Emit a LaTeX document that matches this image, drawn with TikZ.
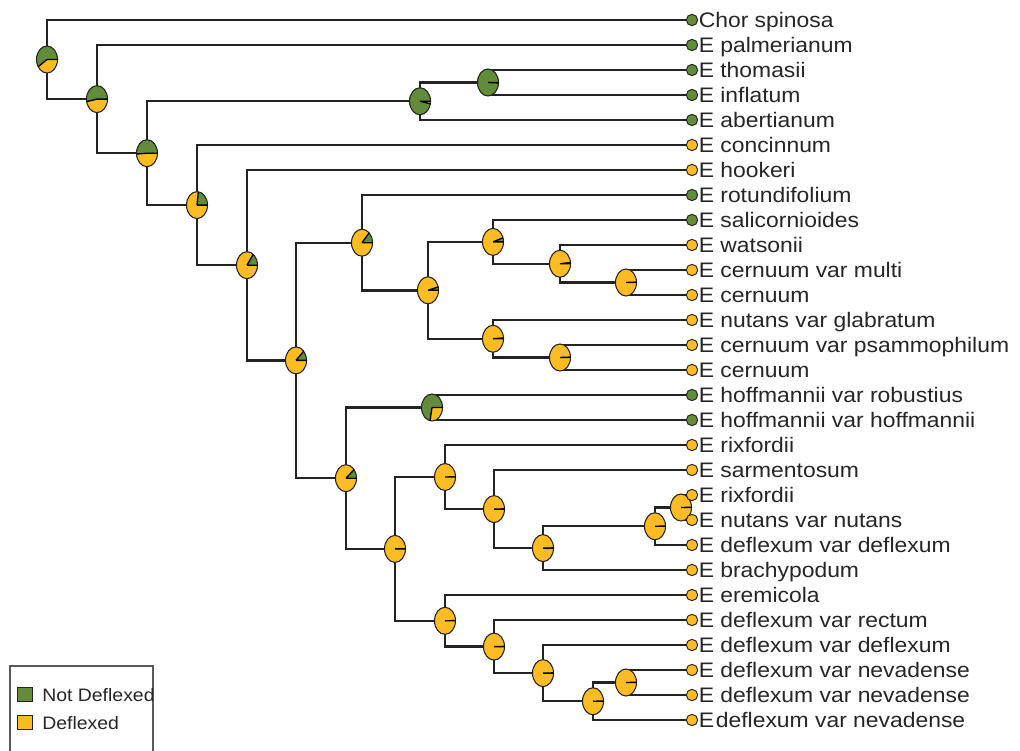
\documentclass[tikz,border=0pt]{standalone}
\usepackage{graphicx}
\usepackage{fontspec}
\setmainfont{Liberation Sans}
\definecolor{grn}{RGB}{98,139,58}
\definecolor{yel}{RGB}{253,188,36}
\definecolor{ln}{RGB}{35,35,35}
\newcommand\pienode[2]{%
  \fill[yel] (#1) ellipse [x radius=10.5, y radius=13.5];
  \fill[grn] (#1) -- ++(10.5,0) arc [start angle=0, end angle={-360*#2}, x radius=10.5, y radius=13.5] -- cycle;
  \draw[pieedge] (#1) ellipse [x radius=10.5, y radius=13.5];
  \draw[pierad] (#1) -- ++(10.5,0) (#1) -- ++({-360*#2}:10.5 and 13.5);
}
\newcommand\tipleaf[4]{%
  \node[lab] (l#1) at (698.5,{#2+7.5}) {\scalebox{1.09}[1]{#4}};
  \node[#3] (t#1) at (692,#2) {};
}
\begin{document}
\begin{tikzpicture}[x=0.75pt,y=-0.75pt,
  branch/.style={draw=ln, line width=1.8pt},
  pieedge/.style={draw=ln, line width=0.8pt},
  pierad/.style={draw=black, line width=1pt},
  tipG/.style={circle, draw=ln, line width=0.7pt, fill=grn, minimum size=8.5pt, inner sep=0pt},
  tipY/.style={circle, draw=ln, line width=0.7pt, fill=yel, minimum size=8.5pt, inner sep=0pt},
  lab/.style={anchor=base west, inner sep=0pt, text=black!85, font=\fontsize{15.75}{18}\selectfont},
  legtext/.style={anchor=base west, inner sep=0pt, text=black!85, font=\fontsize{13.5}{15}\selectfont},
  legbox/.style={draw=black!65, line width=1.1pt},
  legsq/.style={draw=ln, line width=0.8pt}
]
\clip (0,0) rectangle (1020,750);
\fill[white] (0,0) rectangle (1020,750);

% internal nodes
\coordinate (root) at (47,59.5);
\coordinate (n1) at (97,99.1);
\coordinate (n2) at (147,153.2);
\coordinate (nab) at (420,101.25);
\coordinate (nth) at (488,82.5);
\coordinate (n3) at (197,205.1);
\coordinate (n4) at (247,265.2);
\coordinate (n5) at (296,360.4);
\coordinate (n6) at (362,242.7);
\coordinate (n7) at (428,290.3);
\coordinate (n8) at (493,241.9);
\coordinate (n10) at (560,263.75);
\coordinate (n11) at (626,282.5);
\coordinate (n9) at (493,338.75);
\coordinate (n12) at (560,357.5);
\coordinate (nl) at (346,478.2);
\coordinate (nh) at (432,407.5);
\coordinate (n13) at (395,548.9);
\coordinate (n14) at (445,477.0);
\coordinate (n15) at (494,509.1);
\coordinate (n16) at (543,548.1);
\coordinate (n17) at (655,526.25);
\coordinate (nrn) at (681,507.5);
\coordinate (n18) at (445,620.8);
\coordinate (n19) at (494,646.6);
\coordinate (n20) at (543,673.1);
\coordinate (n21) at (593,701.25);
\coordinate (n22) at (626,682.5);

% tip positions
\foreach \i in {0,...,28}{\coordinate (p\i) at (692,{20+25*\i});}

% branches
\draw[branch] (root) |- (p0);
\draw[branch] (root) |- (n1);
\draw[branch] (n1) |- (p1);
\draw[branch] (n1) |- (n2);
\draw[branch] (n2) |- (nab);
\draw[branch] (n2) |- (n3);
\draw[branch] (nab) |- (nth);
\draw[branch] (nab) |- (p4);
\draw[branch] (nth) |- (p2);
\draw[branch] (nth) |- (p3);
\draw[branch] (n3) |- (p5);
\draw[branch] (n3) |- (n4);
\draw[branch] (n4) |- (p6);
\draw[branch] (n4) |- (n5);
\draw[branch] (n5) |- (n6);
\draw[branch] (n5) |- (nl);
\draw[branch] (n6) |- (p7);
\draw[branch] (n6) |- (n7);
\draw[branch] (n7) |- (n8);
\draw[branch] (n7) |- (n9);
\draw[branch] (n8) |- (p8);
\draw[branch] (n8) |- (n10);
\draw[branch] (n10) |- (p9);
\draw[branch] (n10) |- (n11);
\draw[branch] (n11) |- (p10);
\draw[branch] (n11) |- (p11);
\draw[branch] (n9) |- (p12);
\draw[branch] (n9) |- (n12);
\draw[branch] (n12) |- (p13);
\draw[branch] (n12) |- (p14);
\draw[branch] (nl) |- (nh);
\draw[branch] (nl) |- (n13);
\draw[branch] (nh) |- (p15);
\draw[branch] (nh) |- (p16);
\draw[branch] (n13) |- (n14);
\draw[branch] (n13) |- (n18);
\draw[branch] (n14) |- (p17);
\draw[branch] (n14) |- (n15);
\draw[branch] (n15) |- (p18);
\draw[branch] (n15) |- (n16);
\draw[branch] (n16) |- (n17);
\draw[branch] (n16) |- (p22);
\draw[branch] (n17) |- (nrn);
\draw[branch] (n17) |- (p21);
\draw[branch] (nrn) |- (p19);
\draw[branch] (nrn) |- (p20);
\draw[branch] (n18) |- (p23);
\draw[branch] (n18) |- (n19);
\draw[branch] (n19) |- (p24);
\draw[branch] (n19) |- (n20);
\draw[branch] (n20) |- (p25);
\draw[branch] (n20) |- (n21);
\draw[branch] (n21) |- (n22);
\draw[branch] (n21) |- (p28);
\draw[branch] (n22) |- (p26);
\draw[branch] (n22) |- (p27);

% pies
\pienode{root}{0.59}
\pienode{n1}{0.53}
\pienode{n2}{0.51}
\pienode{nab}{0.97}
\pienode{nth}{0.995}
\pienode{n3}{0.23}
\pienode{n4}{0.15}
\pienode{n5}{0.12}
\pienode{n6}{0.13}
\pienode{n7}{0.04}
\pienode{n8}{0.05}
\pienode{n10}{0.015}
\pienode{n11}{0.005}
\pienode{n9}{0.01}
\pienode{n12}{0.005}
\pienode{nl}{0.11}
\pienode{nh}{0.72}
\pienode{n13}{0.003}
\pienode{n14}{0.003}
\pienode{n15}{0.003}
\pienode{n16}{0.003}
\pienode{n17}{0.003}
\pienode{nrn}{0.003}
\pienode{n18}{0.003}
\pienode{n19}{0.003}
\pienode{n20}{0.003}
\pienode{n21}{0.003}
\pienode{n22}{0.003}

% tips and labels
\tipleaf{0}{20}{tipG}{Chor spinosa}
\tipleaf{1}{45}{tipG}{E palmerianum}
\tipleaf{2}{70}{tipG}{E thomasii}
\tipleaf{3}{95}{tipG}{E inflatum}
\tipleaf{4}{120}{tipG}{E abertianum}
\tipleaf{5}{145}{tipY}{E concinnum}
\tipleaf{6}{170}{tipY}{E hookeri}
\tipleaf{7}{195}{tipG}{E rotundifolium}
\tipleaf{8}{220}{tipG}{E salicornioides}
\tipleaf{9}{245}{tipY}{E watsonii}
\tipleaf{10}{270}{tipY}{E cernuum var multi}
\tipleaf{11}{295}{tipY}{E cernuum}
\tipleaf{12}{320}{tipY}{E nutans var glabratum}
\tipleaf{13}{345}{tipY}{E cernuum var psammophilum}
\tipleaf{14}{370}{tipY}{E cernuum}
\tipleaf{15}{395}{tipG}{E hoffmannii var robustius}
\tipleaf{16}{420}{tipG}{E hoffmannii var hoffmannii}
\tipleaf{17}{445}{tipY}{E rixfordii}
\tipleaf{18}{470}{tipY}{E sarmentosum}
\tipleaf{19}{495}{tipY}{E rixfordii}
\tipleaf{20}{520}{tipY}{E nutans var nutans}
\tipleaf{21}{545}{tipY}{E deflexum var deflexum}
\tipleaf{22}{570}{tipY}{E brachypodum}
\tipleaf{23}{595}{tipY}{E eremicola}
\tipleaf{24}{620}{tipY}{E deflexum var rectum}
\tipleaf{25}{645}{tipY}{E deflexum var deflexum}
\tipleaf{26}{670}{tipY}{E deflexum var nevadense}
\tipleaf{27}{695}{tipY}{E deflexum var nevadense}
\tipleaf{28}{720}{tipY}{E\hspace{0.08em}deflexum var nevadense}

% legend
\draw[legbox] (10,666) rectangle (153,765);
\node[legsq, fill=grn, minimum size=11pt, inner sep=0pt] (sqG) at (25,694.5) {};
\node[legsq, fill=yel, minimum size=11pt, inner sep=0pt] (sqY) at (25,722.5) {};
\begin{scope}
  \clip (11,670) rectangle (152.5,750);
  \node[legtext] (lgG) at (42,701) {\scalebox{1.08}[1]{Not Deflexed}};
  \node[legtext] (lgY) at (42,729) {\scalebox{1.08}[1]{Deflexed}};
\end{scope}
\end{tikzpicture}
\end{document}
